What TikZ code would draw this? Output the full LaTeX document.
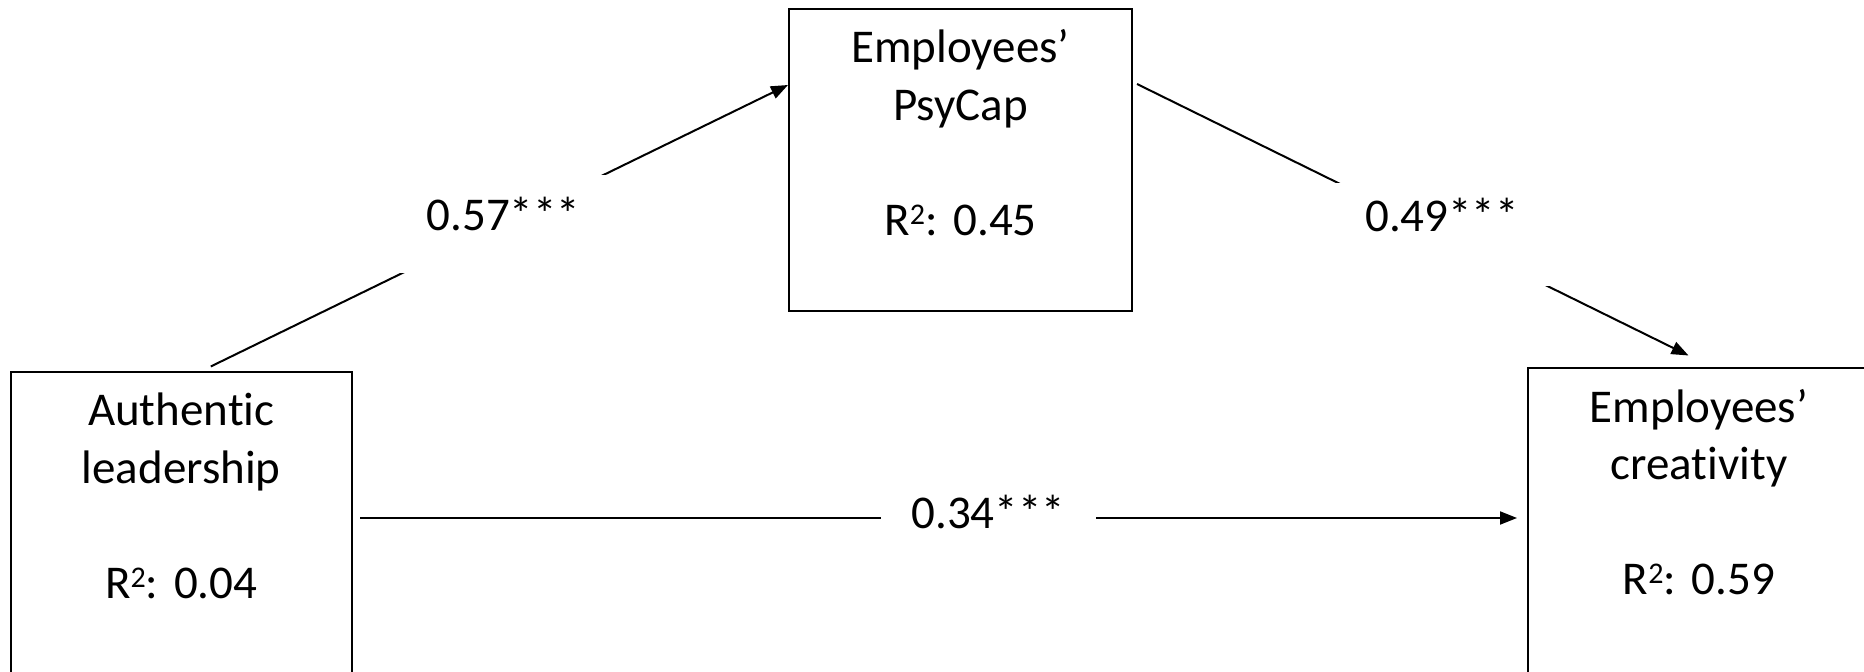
\documentclass[tikz,border=0pt]{standalone}
\usepackage{fontspec}
\setmainfont[Ligatures=NoCommon]{Carlito}
\usetikzlibrary{arrows.meta}
\frenchspacing
% R with a superscript two, sized like the word processor's superscript
\newcommand{\rsq}{R\raisebox{5.5pt}{\fontsize{15pt}{15pt}\selectfont 2}}
\begin{document}
\begin{tikzpicture}[x=0.5pt, y=-0.5pt,
  varbox/.style={draw, line width=1pt, inner sep=0pt, anchor=north west},
  boxtext/.style={anchor=north, text width=165pt, align=center, inner sep=0pt,
    text height=0pt, font=\fontsize{23.5pt}{28.75pt}\selectfont},
  link/.style={line width=1pt, -{Triangle[length=8.5pt,width=6.5pt]}},
  coef/.style={fill=white, inner sep=0pt, align=center,
    font=\fontsize{23.5pt}{28.75pt}\selectfont}
]
\useasboundingbox (0,0) rectangle (1864,672);
\clip (0,0) rectangle (1864,672);

% variable boxes
\node[varbox, minimum width=170.75pt, minimum height=175pt] (al) at (9.5,371) {};
\node[varbox, minimum width=171.5pt, minimum height=151pt] (pc) at (788,8) {};
\node[varbox, minimum width=171pt, minimum height=175pt] (cr) at (1527,367.5) {};

\node[boxtext] (alt) at ([yshift=-27.25pt]al.north)
  {Authentic\\leadership\\[28.75pt]\rsq: 0.04};
\node[boxtext] (pct) at ([yshift=-27.25pt]pc.north)
  {Employees’\\PsyCap\\[28.75pt]\rsq: 0.45};
\node[boxtext] (crt) at ([yshift=-27.25pt]cr.north)
  {Employees’\\creativity\\[28.75pt]\rsq: 0.59};

% paths with their coefficients
\draw[link] ([shift={(29.5,-4.5)}]al.north) --
  node[coef, pos=0.507, minimum width=105pt, text height=28pt, text depth=21pt] (c1) {0.57***}
  ([shift={(0,77)}]pc.north west);
\draw[link] ([shift={(4,76)}]pc.north east) --
  node[coef, pos=0.553, minimum width=110pt, text height=24.25pt, text depth=27.25pt] (c2) {0.49***}
  ([shift={(-10.5,-12)}]cr.north);
\draw[link] ([shift={(7,147)}]al.north east) --
  node[coef, pos=0.543, minimum width=107.5pt, text height=20.5pt, text depth=9.5pt] (c3) {0.34***}
  ([shift={(-10,150.5)}]cr.north west);
\end{tikzpicture}
\end{document}
